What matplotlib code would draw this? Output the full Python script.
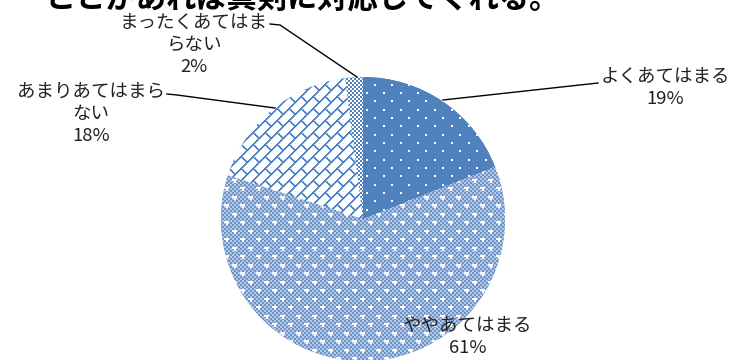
import numpy as np
import matplotlib
matplotlib.use('Agg')
import matplotlib.pyplot as plt

# ---- data ----
categories = ['よくあてはまる', 'ややあてはまる', 'あまりあてはまらない', 'まったくあてはまらない']
values = [19, 61, 18, 2]
title = 'ことがあれば真剣に対応してくれる。'

plt.rcParams['font.family'] = ['Noto Sans CJK JP', 'DejaVu Sans']

W, H = 738, 360
BLUE = np.array([0x4F, 0x81, 0xBD]) / 255.0
MBLUE = np.array([0x6A, 0x94, 0xCA]) / 255.0
LBLUE = np.array([0xB4, 0xC8, 0xE6]) / 255.0
HALO = np.array([0xB0, 0xC6, 0xE4]) / 255.0
WHITE = np.array([1.0, 1.0, 1.0])

fig = plt.figure(figsize=(W / 100, H / 100), dpi=100)
ax = fig.add_axes([0, 0, 1, 1])

cx, cy, r = 363, H - 219, 142
wedges, _ = ax.pie(values, startangle=90, counterclock=False,
                   center=(cx, cy), radius=r,
                   colors=['#4F81BD', '#7F9FD0', '#C9D7EC', '#9DB5DD'],
                   wedgeprops=dict(linewidth=0))

# ---- pattern textures (pixel space) ----
yy, xx = np.mgrid[0:H, 0:W].astype(float)
C = lambda c: np.broadcast_to(c, (H, W, 3))

# slice 1: solid blue with white staggered dots
row = np.floor(yy / 8.33)
dot = ((yy - row * 8.33) < 2) & (((xx - (row % 2) * 8.5) % 17) < 2)
tex1 = np.where(dot[..., None], C(WHITE), C(BLUE))

# slice 2: fine checker (blue / light blue) with white staggered dashes
checker = ((np.floor(xx / 2) + np.floor(yy / 2)) % 2) == 0
row2 = np.floor(yy / 8.5)
dy = yy - row2 * 8.5
dx = (xx - (row2 % 2) * 8) % 16
cross = ((dy < 2) & (dx < 5)) | ((dy < 4) & (dx >= 1.5) & (dx < 3.5))
tex2 = np.where(cross[..., None], C(WHITE),
                np.where(checker[..., None], C(MBLUE), C(LBLUE)))

# slice 3: diagonal brick
u = xx + yy
v = xx - yy
strip = np.floor(u / 12)
core = ((u % 12) < 1.2) | (((v + (strip % 2) * 12) % 24) < 1.2)
halo = ((u % 12) < 2.2) | (((v + (strip % 2) * 12) % 24) < 2.2)
tex3 = np.where(core[..., None], C(BLUE), np.where(halo[..., None], C(HALO), C(WHITE)))

# slice 4: small checker
tex4 = np.where(checker[..., None], C(BLUE), C(WHITE))

for w, tex in zip(wedges, [tex1, tex2, tex3, tex4]):
    im = ax.imshow(np.ascontiguousarray(tex), extent=(0, W, 0, H), origin='upper',
                   interpolation='nearest', zorder=w.get_zorder() + 0.1)
    im.set_clip_path(w)

ax.set_xlim(0, W)
ax.set_ylim(0, H)
ax.set_aspect('equal')
ax.axis('off')


def wrap(s, n=8):
    return '\n'.join(s[i:i + n] for i in range(0, len(s), n))


labels = [f'{wrap(c)}\n{v}%' for c, v in zip(categories, values)]
label_pos = [(665, 88), (468, 337), (91, 114), (194, 45)]
for lab, (x, y) in zip(labels, label_pos):
    ax.text(x, H - y, lab, ha='center', va='center', fontsize=13.3,
            color='#222222', linespacing=1.28, zorder=10)

leaders = [
    [(443, 100), (598, 83)],
    [(167, 94), (177, 95), (275, 108)],
    [(270, 24), (280, 25), (357, 77)],
]
for pts in leaders:
    xs = [p[0] for p in pts]
    ys = [H - p[1] for p in pts]
    ax.plot(xs, ys, color='black', lw=1.0, zorder=9)

ax.text(45, H - 7, title, ha='left', va='baseline', fontsize=21.8,
        fontweight='bold', color='black', zorder=10)

fig.savefig('out.png', dpi=100)
